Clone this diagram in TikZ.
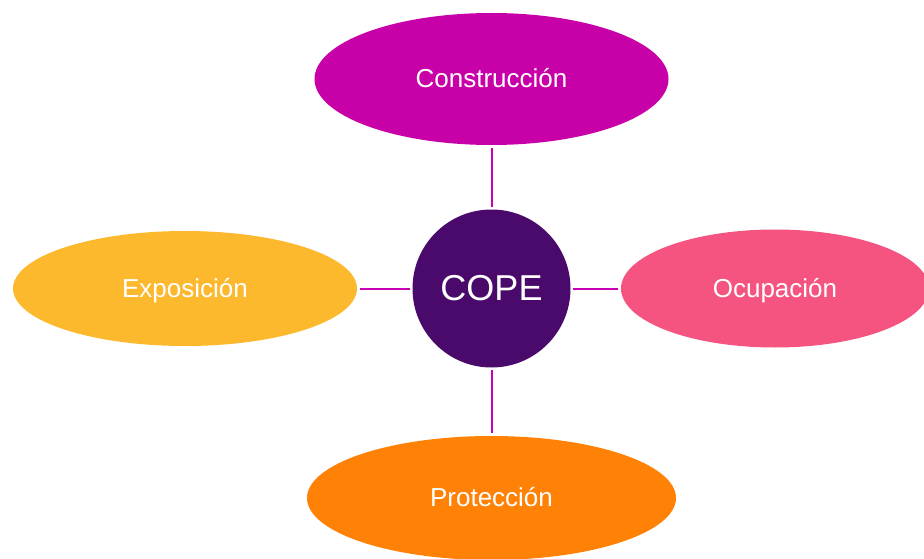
\documentclass[tikz,border=0pt]{standalone}
\usepackage{fontspec}
\setmainfont{Liberation Sans}
\usetikzlibrary{shapes.geometric}
\definecolor{cmag}{HTML}{C800A8}
\definecolor{cyel}{HTML}{FDB92E}
\definecolor{cpink}{HTML}{F55480}
\definecolor{corange}{HTML}{FF8206}
\definecolor{cpurple}{HTML}{4A0A6B}
\definecolor{cline}{HTML}{C800B4}
\begin{document}
\begin{tikzpicture}[x=1pt,y=-1pt,
  petal/.style={ellipse,inner sep=0pt,text=white,text height=20pt,text depth=3pt,font=\fontsize{26}{30}\selectfont},
  hub/.style={circle,fill=cpurple,inner sep=0pt,minimum size=158pt,text=white,font=\fontsize{36}{40}\selectfont},
  link/.style={draw=cline,line width=2pt,shorten <=2.5pt,shorten >=2.5pt}]
\useasboundingbox (0,0) rectangle (924,559);
\node[hub] (c) at (491.5,288.5) {COPE};
\node[petal,fill=cmag,minimum width=354pt,minimum height=132pt] (top) at (491.5,79) {Construcción};
\node[petal,fill=cyel,minimum width=344pt,minimum height=115pt] (left) at (185,288.5) {Exposición};
\node[petal,fill=cpink,minimum width=308pt,minimum height=118pt] (right) at (775,288.5) {Ocupación};
\node[petal,fill=corange,minimum width=369pt,minimum height=124pt] (bot) at (491.5,498) {Protección};
\draw[link] (c) -- (top);
\draw[link] (c) -- (left);
\draw[link] (c) -- (right);
\draw[link] (c) -- (bot);
\end{tikzpicture}
\end{document}
